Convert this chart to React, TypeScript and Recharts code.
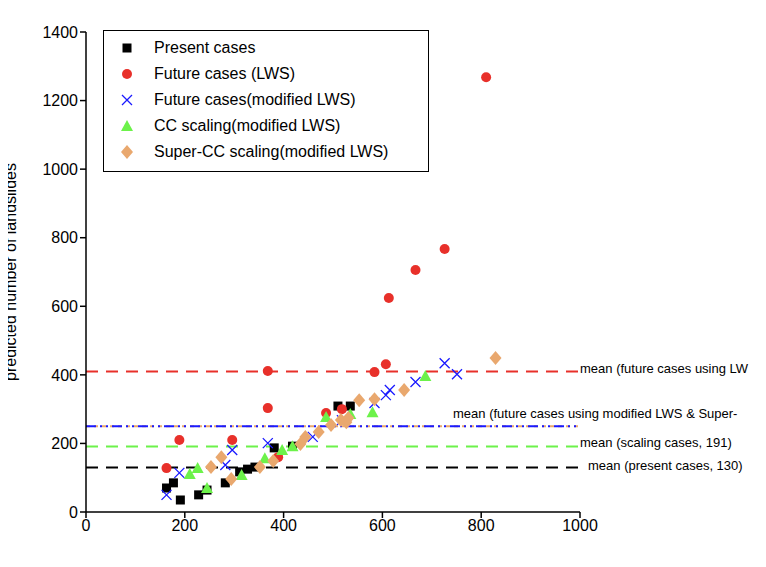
import { ReferenceLine, Scatter, ScatterChart, XAxis, YAxis } from "recharts"

const presentX = [163, 177, 191, 228, 245, 282, 311, 327, 342, 381, 418, 510, 535]
const presentY = [70, 85, 35, 50, 64, 85, 117, 125, 131, 187, 192, 309, 309]
const lwsX = [163, 189, 296, 368, 368, 389, 486, 518, 584, 607, 613, 667, 726, 810]
const lwsY = [128, 210, 210, 411, 303, 160, 289, 300, 408, 431, 624, 706, 767, 1268]
const modX = [163, 189, 282, 296, 368, 459, 518, 584, 607, 615, 667, 726, 751]
const modY = [50, 114, 137, 181, 201, 219, 268, 318, 341, 356, 379, 434, 402]
const ccX = [210, 226, 245, 315, 362, 397, 418, 486, 535, 580, 687]
const ccY = [111, 128, 70, 108, 157, 181, 192, 277, 286, 291, 397]
const superX = [253, 274, 294, 352, 379, 434, 444, 471, 496, 516, 527, 531, 553, 584, 644, 829]
const superY = [131, 160, 96, 131, 149, 198, 219, 233, 254, 268, 262, 274, 326, 329, 356, 449]

const xTicks = [0, 200, 400, 600, 800, 1000]
const yTicks = [0, 200, 400, 600, 800, 1000, 1200, 1400]

const toPoints = (xs: number[], ys: number[]) => xs.map((x, i) => ({ x, y: ys[i] }))

const Square = ({ cx, cy }: any) => <rect x={cx - 4.5} y={cy - 4.5} width={9} height={9} fill="#000" />
const Dot = ({ cx, cy }: any) => <circle cx={cx} cy={cy} r={5} fill="#e8302a" />
const XMark = ({ cx, cy }: any) => (
  <path d={`M${cx - 5},${cy - 5}L${cx + 5},${cy + 5}M${cx - 5},${cy + 5}L${cx + 5},${cy - 5}`} stroke="#1a1aff" strokeWidth={1.3} />
)
const Tri = ({ cx, cy }: any) => <path d={`M${cx},${cy - 6}L${cx + 6},${cy + 5}L${cx - 6},${cy + 5}Z`} fill="#6cf24a" />
const Diamond = ({ cx, cy }: any) => <path d={`M${cx},${cy - 7}L${cx + 6},${cy}L${cx},${cy + 7}L${cx - 6},${cy}Z`} fill="#e9a86e" />

const legendItems = [
  { name: "Present cases", Icon: Square },
  { name: "Future cases (LWS)", Icon: Dot },
  { name: "Future cases(modified LWS)", Icon: XMark },
  { name: "CC scaling(modified LWS)", Icon: Tri },
  { name: "Super-CC scaling(modified LWS)", Icon: Diamond },
]

const MeanLabel = ({ viewBox, text, dx, dy }: any) => (
  <text x={viewBox.x + viewBox.width + dx} y={viewBox.y + dy} fontSize={13} fill="#000" dominantBaseline="middle">
    {text}
  </text>
)

export default function App() {
  return (
    <div style={{ width: 766, height: 567, fontFamily: "'Liberation Sans', Arial, sans-serif", position: "relative", margin: -8 }}>
      <ScatterChart width={766} height={567} margin={{ top: 32, right: 186, bottom: 20, left: 8 }} style={{ overflow: "visible" }}>
        <XAxis type="number" dataKey="x" domain={[0, 1000]} ticks={xTicks} tick={{ fontSize: 16, fill: "#000" }} stroke="#000" strokeWidth={1.5} tickSize={6} height={35} />
        <YAxis
          type="number"
          dataKey="y"
          domain={[0, 1400]}
          ticks={yTicks}
          tick={{ fontSize: 16, fill: "#000" }}
          stroke="#000"
          strokeWidth={1.5}
          tickSize={6}
          width={78}
          label={{ value: "predicted number of landslides", angle: -90, position: "insideLeft", offset: 2, style: { fontSize: 16, fill: "#000", textAnchor: "middle" } }}
        />
        <ReferenceLine y={410} stroke="#e8302a" strokeWidth={2} strokeDasharray="12 8" label={<MeanLabel text="mean (future cases using LW" dx={0} dy={-2} />} />
        <ReferenceLine y={250} stroke="#e9a86e" strokeWidth={2} strokeDasharray="4 4" />
        <ReferenceLine y={250} stroke="#1a1aff" strokeWidth={2} strokeDasharray="10 4 2 4 2 4" label={<MeanLabel text="mean (future cases using modified LWS & Super-" dx={-127} dy={-12} />} />
        <ReferenceLine y={191} stroke="#6cf24a" strokeWidth={2} strokeDasharray="12 8" label={<MeanLabel text="mean (scaling cases, 191)" dx={0} dy={-3} />} />
        <ReferenceLine y={130} stroke="#000" strokeWidth={2} strokeDasharray="12 8" label={<MeanLabel text="mean (present  cases, 130)" dx={8} dy={-1} />} />
        <Scatter name="Present cases" data={toPoints(presentX, presentY)} shape={<Square />} isAnimationActive={false} />
        <Scatter name="Future cases (LWS)" data={toPoints(lwsX, lwsY)} shape={<Dot />} isAnimationActive={false} />
        <Scatter name="Future cases(modified LWS)" data={toPoints(modX, modY)} shape={<XMark />} isAnimationActive={false} />
        <Scatter name="CC scaling(modified LWS)" data={toPoints(ccX, ccY)} shape={<Tri />} isAnimationActive={false} />
        <Scatter name="Super-CC scaling(modified LWS)" data={toPoints(superX, superY)} shape={<Diamond />} isAnimationActive={false} />
      </ScatterChart>
      {/* legend box, top-left inside the plot */}
      <div style={{ position: "absolute", top: 30, left: 103, border: "1.5px solid #000", width: 326, height: 142, boxSizing: "border-box", padding: "4px 0 0 8px", background: "#fff" }}>
        {legendItems.map(({ name, Icon }) => (
          <div key={name} style={{ display: "flex", alignItems: "center", height: 26, fontSize: 16, color: "#000" }}>
            <svg width={30} height={20}>
              <Icon cx={15} cy={10} />
            </svg>
            <span style={{ marginLeft: 12 }}>{name}</span>
          </div>
        ))}
      </div>
    </div>
  )
}
